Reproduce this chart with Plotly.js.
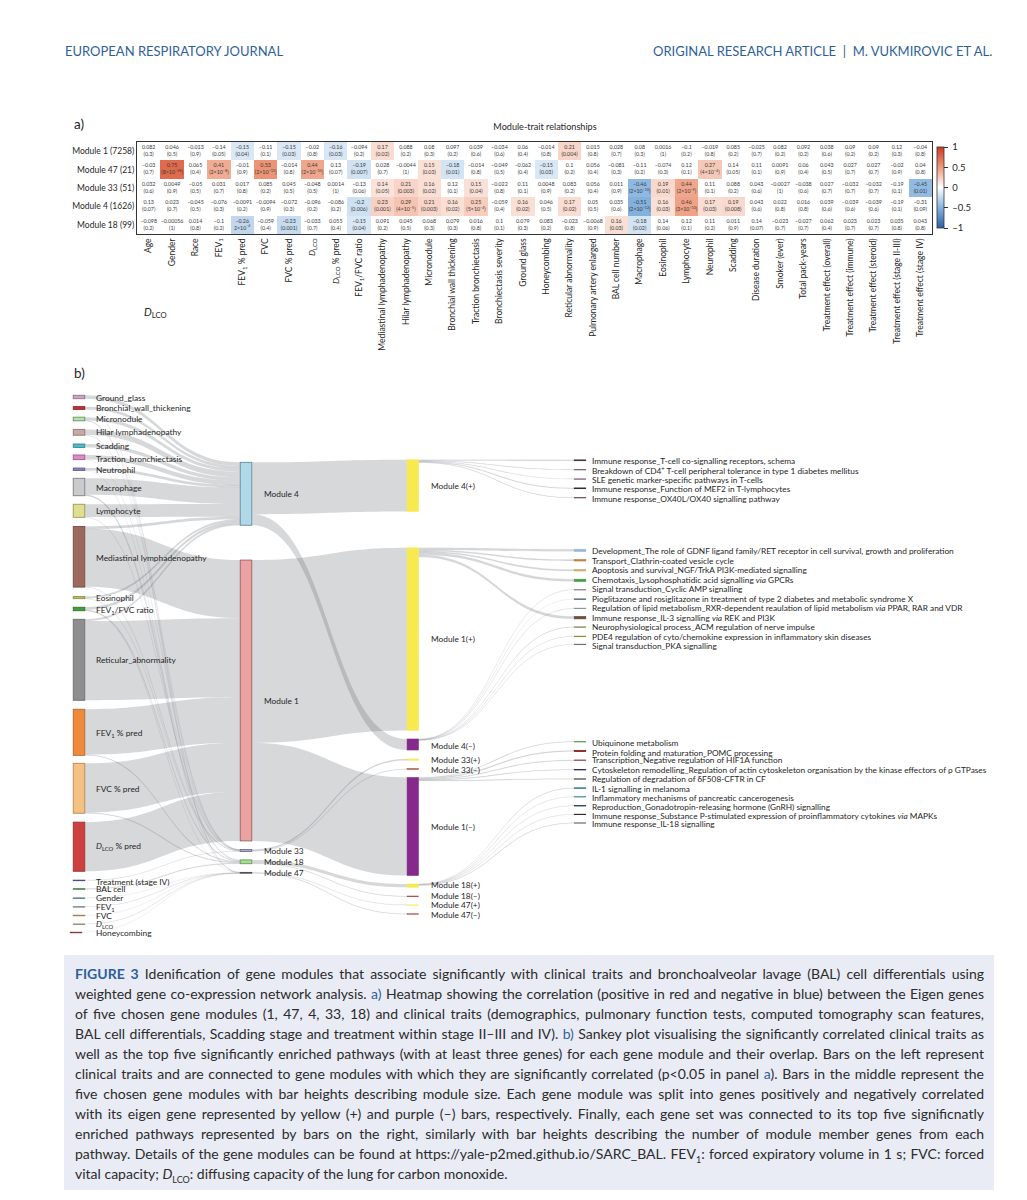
<!DOCTYPE html>
<html><head><meta charset="utf-8">
<script src="https://cdn.plot.ly/plotly-3.0.1.min.js"></script>
<style>
html,body{margin:0;padding:0;background:#fff;overflow:hidden}
#chart{position:absolute;left:0;top:0;width:1027px;height:1200px}
#caption{position:absolute;left:64px;top:955px;width:930px;height:235px;background:#e9ebf5;font-family:Lato,sans-serif;font-size:14px;color:#2b2b2b;box-sizing:border-box;padding:9px 10px 0 11px}
#caption div{height:20px;line-height:20px;text-align:justify;text-align-last:justify}
#caption div.last{text-align-last:left}
#caption b{color:#2f5f9a;font-weight:700}
#caption span{color:#2f5f9a}
#caption sub{font-size:9px;line-height:0}
</style></head><body>
<div id="chart"></div>
<div id="caption">
<div><b>FIGURE 3</b> Idenification of gene modules that associate significantly with clinical traits and bronchoalveolar lavage (BAL) cell differentials using</div>
<div>weighted gene co-expression network analysis. <span>a)</span> Heatmap showing the correlation (positive in red and negative in blue) between the Eigen genes</div>
<div>of five chosen gene modules (1, 47, 4, 33, 18) and clinical traits (demographics, pulmonary function tests, computed tomography scan features,</div>
<div>BAL cell differentials, Scadding stage and treatment within stage II–III and IV). <span>b)</span> Sankey plot visualising the significantly correlated clinical traits as</div>
<div>well as the top five significantly enriched pathways (with at least three genes) for each gene module and their overlap. Bars on the left represent</div>
<div>clinical traits and are connected to gene modules with which they are significantly correlated (p&lt;0.05 in panel <span>a</span>). Bars in the middle represent the</div>
<div>five chosen gene modules with bar heights describing module size. Each gene module was split into genes positively and negatively correlated</div>
<div>with its eigen gene represented by yellow (+) and purple (–) bars, respectively. Finally, each gene set was connected to its top five significnatly</div>
<div>enriched pathways represented by bars on the right, similarly with bar heights describing the number of module member genes from each</div>
<div>pathway. Details of the gene modules can be found at https://yale-p2med.github.io/SARC_BAL. FEV<sub>1</sub>: forced expiratory volume in 1 s; FVC: forced</div>
<div class="last">vital capacity; <i>D</i><sub>LCO</sub>: diffusing capacity of the lung for carbon monoxide.</div>
</div>
<script>
/* ---------- panel a data ---------- */
const traits = ["Age","Gender","Race","FEV<sub>1</sub>","FEV<sub>1</sub> % pred","FVC","FVC % pred","<i>D</i><sub>LCO</sub>","<i>D</i><sub>LCO</sub> % pred","FEV<sub>1</sub>/FVC ratio","Mediastinal lymphadenopathy","Hilar lymphadenopathy","Micronodule","Bronchial wall thickening","Traction bronchiectasis","Bronchiectasis severity","Ground glass","Honeycombing","Reticular abnormality","Pulmonary artery enlarged","BAL cell number","Macrophage","Eosinophil","Lymphocyte","Neurophil","Scadding","Disease duration","Smoker (ever)","Total pack-years","Treatment effect (overall)","Treatment effect (immune)","Treatment effect (steroid)","Treatment effect (stage II-III)","Treatment effect (stage IV)"];
const moduleRows = ["Module 1 (7258)","Module 47 (21)","Module 33 (51)","Module 4 (1626)","Module 18 (99)"];
const rM1 = [0.082,0.046,-0.013,-0.14,-0.15,-0.11,-0.15,-0.02,-0.16,-0.094,0.17,0.088,0.08,0.097,0.039,-0.034,0.06,-0.014,0.21,0.015,0.028,0.08,0.0016,-0.1,-0.019,0.085,-0.025,0.082,0.092,0.038,0.09,0.09,0.12,-0.04];
const rM47 = [-0.03,0.75,0.065,0.41,-0.01,0.53,-0.014,0.44,0.13,-0.19,0.028,-0.0044,0.15,-0.18,-0.014,-0.049,-0.062,-0.15,0.1,0.056,-0.081,-0.11,-0.074,0.12,0.27,0.14,0.11,0.0091,0.06,0.043,0.027,0.027,-0.02,0.04];
const rM33 = [0.032,0.0049,-0.05,0.031,0.017,0.085,0.045,-0.048,0.0014,-0.13,0.14,0.21,0.16,0.12,0.15,-0.022,0.11,0.0048,0.083,0.056,0.011,-0.46,0.19,0.44,0.11,0.088,0.043,-0.0027,-0.038,0.027,-0.032,-0.032,-0.19,-0.45];
const rM4 = [0.13,0.023,-0.045,-0.076,-0.0091,-0.0094,-0.072,-0.096,-0.086,-0.2,0.23,0.29,0.21,0.16,0.25,-0.059,0.16,0.046,0.17,0.05,0.035,-0.51,0.16,0.46,0.17,0.19,0.043,0.022,0.016,0.039,-0.039,-0.039,-0.19,-0.31];
const rM18 = [-0.098,-0.00056,0.014,-0.1,-0.26,-0.059,-0.23,-0.033,0.055,-0.15,0.091,0.045,0.068,0.079,0.016,0.1,0.079,0.083,-0.023,-0.0068,0.16,-0.18,0.14,0.12,0.11,0.011,0.14,-0.023,-0.027,0.062,0.023,0.023,0.035,0.043];
const e = (a,b)=>`${a}×10<sup>–${b}</sup>`;
const pM1 = ["(0.3)","(0.5)","(0.9)","(0.05)","(0.04)","(0.1)","(0.03)","(0.8)","(0.03)","(0.2)","(0.02)","(0.2)","(0.3)","(0.2)","(0.6)","(0.6)","(0.4)","(0.8)","(0.004)","(0.8)","(0.7)","(0.3)","(1)","(0.2)","(0.8)","(0.2)","(0.7)","(0.2)","(0.2)","(0.6)","(0.2)","(0.2)","(0.3)","(0.8)"];
const pM47 = ["(0.7)",`(${e(8,38)})`,"(0.4)",`(${e(2,8)})`,"(0.9)",`(${e(2,13)})`,"(0.8)",`(${e(2,10)})`,"(0.07)","(0.007)","(0.7)","(1)","(0.03)","(0.01)","(0.8)","(0.5)","(0.4)","(0.03)","(0.2)","(0.4)","(0.3)","(0.2)","(0.3)","(0.1)",`(${e(4,4)})`,"(0.05)","(0.1)","(0.9)","(0.4)","(0.5)","(0.7)","(0.7)","(0.9)","(0.8)"];
const pM33 = ["(0.6)","(0.9)","(0.5)","(0.7)","(0.8)","(0.2)","(0.5)","(0.5)","(1)","(0.06)","(0.05)","(0.003)","(0.02)","(0.1)","(0.04)","(0.8)","(0.1)","(0.9)","(0.2)","(0.4)","(0.9)",`(${e(2,10)})`,"(0.01)",`(${e(2,9)})`,"(0.1)","(0.2)","(0.6)","(1)","(0.6)","(0.7)","(0.7)","(0.7)","(0.1)","(0.01)"];
const pM4 = ["(0.07)","(0.7)","(0.5)","(0.3)","(0.2)","(0.9)","(0.3)","(0.2)","(0.2)","(0.006)","(0.001)",`(${e(4,5)})`,"(0.003)","(0.02)",`(${e(5,4)})`,"(0.4)","(0.02)","(0.5)","(0.02)","(0.5)","(0.6)",`(${e(2,12)})`,"(0.03)",`(${e(3,10)})`,"(0.03)","(0.008)","(0.6)","(0.8)","(0.8)","(0.6)","(0.6)","(0.6)","(0.1)","(0.09)"];
const pM18 = ["(0.2)","(1)","(0.8)","(0.2)",e(2,4),"(0.4)","(0.001)","(0.7)","(0.4)","(0.04)","(0.2)","(0.5)","(0.3)","(0.3)","(0.8)","(0.1)","(0.3)","(0.2)","(0.8)","(0.9)","(0.03)","(0.02)","(0.06)","(0.1)","(0.2)","(0.9)","(0.07)","(0.7)","(0.7)","(0.4)","(0.7)","(0.7)","(0.8)","(0.8)"];
/* traits (by column index) shaded as significant in each row */
const sigM1 = [4,6,8,10,18];
const sigM47 = [1,3,5,7,9,12,13,17,24];
const sigM33 = [10,11,12,14,21,22,23,33];
const sigM4 = [9,10,11,12,13,14,16,18,21,22,23,24,25];
const sigM18 = [4,6,9,20,21];

/* ---------- panel b data ---------- */
const leftNames = ["Ground_glass","Bronchial_wall_thickening","Micronodule","Hilar lymphadenopathy","Scadding","Traction_bronchiectasis","Neutrophil","Macrophage","Lymphocyte","Mediastinal lymphadenopathy","Eosinophil","FEV<sub>1</sub>/FVC ratio","Reticular_abnormality","FEV<sub>1</sub> % pred","FVC % pred","<i>D</i><sub>LCO</sub> % pred","Treatment (stage IV)","BAL cell","Gender","FEV<sub>1</sub>","FVC","<i>D</i><sub>LCO</sub>","Honeycombing"];
const midNames = ["Module 4","Module 1","Module 33","Module 18","Module 47"];
const signNames = ["Module 4(+)","Module 1(+)","Module 4(–)","Module 33(+)","Module 33(–)","Module 1(–)","Module 18(+)","Module 18(–)","Module 47(+)","Module 47(–)"];
const pathNames = ["Immune response_T-cell co-signalling receptors, schema","Breakdown of CD4<sup>+</sup> T-cell peripheral tolerance in type 1 diabetes mellitus","SLE genetic marker-specific pathways in T-cells","Immune response_Function of MEF2 in T-lymphocytes","Immune response_OX40L/OX40 signalling pathway","Development_The role of GDNF ligand family/RET receptor in cell survival, growth and proliferation","Transport_Clathrin-coated vesicle cycle","Apoptosis and survival_NGF/TrkA PI3K-mediated signalling","Chemotaxis_Lysophosphatidic acid signalling <i>via</i> GPCRs","Signal transduction_Cyclic AMP signalling","Pioglitazone and rosiglitazone in treatment of type 2 diabetes and metabolic syndrome X","Regulation of lipid metabolism_RXR-dependent reaulation of lipid metabolism <i>via</i> PPAR, RAR and VDR","Immune response_IL-3 signalling <i>via</i> REK and PI3K","Neurophysiological process_ACM regulation of nerve impulse","PDE4 regulation of cyto/chemokine expression in inflammatory skin diseases","Signal transduction_PKA signalling","Ubiquinone metabolism","Protein folding and maturation_POMC processing","Transcription_Negative regulation of HIF1A function","Cytoskeleton remodelling_Regulation of actin cytoskeleton organisation by the kinase effectors of ρ GTPases","Regulation of degradation of δF508-CFTR in CF","IL-1 signalling in melanoma","Inflammatory mechanisms of pancreatic cancerogenesis","Reproduction_Gonadotropin-releasing hormone (GnRH) signalling","Immune response_Substance P-stimulated expression of proinflammatory cytokines <i>via</i> MAPKs","Immune response_IL-18 signalling"];
/* trait -> module flows, in module genes: [trait index, value] per module */
const toM4 = [[0,88],[1,68],[2,86],[3,145],[4,88],[5,114],[6,63],[7,425],[8,331],[9,60],[10,47],[11,66],[12,45]];
const toM1 = [[9,1500],[12,2048],[13,1170],[14,1270],[15,1270]];
const toM33 = [[2,6],[3,6],[5,6],[7,6],[8,7],[9,6],[10,6],[16,6]];
const toM18 = [[7,19],[11,20],[13,20],[14,20],[17,20]];
const toM47 = [[1,2],[2,2],[6,2],[11,3],[18,3],[19,3],[20,2],[21,2],[22,2]];
/* module -> signed gene set */
const moduleSplit = [[0,0,1340],[0,2,286],[1,1,4720],[1,5,2538],[2,3,33],[2,4,18],[3,6,85],[3,7,14],[4,8,8],[4,9,13]];
/* signed gene set -> pathway */
const setPathways = [[0,0,22],[0,1,12],[0,2,10],[0,3,20],[0,4,14],[1,5,55],[1,6,35],[1,7,35],[1,8,55],[1,12,60],[2,9,8],[2,10,6],[2,11,6],[2,13,8],[2,14,7],[2,15,6],[5,16,16],[5,17,26],[5,18,20],[5,19,16],[5,20,16],[6,21,9],[6,22,6],[6,23,8],[6,24,7],[6,25,13]];

/* ---------- styling / placement (pixels on the page) ---------- */
const W=1027,H=1200,PX_PER_GENE=0.0387,SANKEY_TOP=390;
const fx=x=>x/W, fy=y=>1-y/H;
const FONT="Lato, sans-serif";
const INK='#262626';
const leftColors=[["#cba7bd","#8f7388"],["#c4303a","#8f1f26"],["#bcdcae","#5f9a5f"],["#c6aaa4","#94756f"],["#55b6c4","#2f8896"],["#dc8cc4","#a25a90"],["#9080c0","#6a5a96"],["#cbcbcb","#808080"],["#e0de92","#9a9a55"],["#9c675d","#7a4c44"],["#bcc060","#8e9240"],["#459b45","#2c7a2c"],["#8e8e8e","#707070"],["#ee8a3a","#b06a30"],["#f5c083","#b58a55"],["#cc4040","#a03232"],["#4a4a8a","#4a4a8a"],["#4f8f5f","#4f8f5f"],["#5b7a9a","#5b7a9a"],["#7a8aa0","#7a8aa0"],["#a87a50","#a87a50"],["#9a8a7a","#9a8a7a"],["#8a3a3a","#8a3a3a"]];
const midColors=[["#b0d8e6","#5f8f9f"],["#eba2a2","#9a6060"],["#b2a9d2","#707090"],["#b2d892","#60a060"],["#8484a4","#505060"]];
const signColors=["#f7e94f","#f7e94f","#85298a","#f7e94f","#a04030","#85298a","#f7e94f","#8a1f1f","#f7e94f","#a05050"];
const pathColors=["#40303a","#7f6a7a","#8a6a8a","#302530","#705a5a","#9cb8d4","#c07f3f","#d4a878","#4a9a4a","#9a8a9a","#4a5a6a","#8a9aa4","#6a4a3a","#8a8a6a","#9a8040","#7a6a6a","#6aa06a","#7a1010","#a06070","#30306a","#6a6a6a","#1f7070","#6aa0a0","#2a4a6a","#3a2a2a","#808080"];
const leftY=[397,408,419,432.3,445.7,457.3,469.3,487,510.8,556.8,597.6,609,659.8,732.3,788.3,846.7,880.3,889,898,906.7,915.3,924,932.3];
const leftLabelY=[397.7,408.3,419.3,432.3,446,458.7,469.7,488,511,557.7,597.7,610,660.3,733.3,789,846.7,881.7,889,898,907,915.7,924.7,933.3];
const midY=[493.8,700.5,850.5,861.8,872.8];
const midLabelY=[494,701,851,862,873.3];
const signY=[485.6,639.1,744.5,759.6,769,826.5,885.6,896.3,905,914];
const signLabelY=[486,639.3,745.7,760,769.7,827.3,885,896,905.3,915.3];
const pathY=[460.3,469.7,479,488.3,497.7,550.3,560.3,570.3,580.3,589.7,599,608.3,617.7,627,636.3,644.3,741.7,751,760.3,769.7,779,788,796.7,805.7,814.3,823];
const pathLabelY=[460.7,470.3,479.7,489.3,498.7,551,560.7,570.3,579.7,589,598.7,608,617.7,627,636.7,646.3,743.3,752.7,760.3,770,779,789,797.7,806.7,815.7,823.7];

/* ---------- build heatmap ---------- */
const rRows=[rM1,rM47,rM33,rM4,rM18], pRows=[pM1,pM47,pM33,pM4,pM18], sigRows=[sigM1,sigM47,sigM33,sigM4,sigM18];
const zShown=rRows.map((row,i)=>row.map((v,j)=>sigRows[i].includes(j)?v:null));
const fmt=v=>String(v).replace('-','–');
const tx=[],ty=[],tt=[];
rRows.forEach((row,i)=>row.forEach((v,j)=>{tx.push(traits[j]);ty.push(moduleRows[i]);tt.push(fmt(v)+'<br>'+pRows[i][j]);}));
const heat={type:'heatmap',x:traits,y:moduleRows,z:zShown,zmin:-1,zmax:1,hoverongaps:false,
 colorscale:[[0,'#2a5fa5'],[0.25,'#85b3df'],[0.5,'#ffffff'],[0.75,'#ee9a7c'],[1,'#d03a20']],
 colorbar:{x:fx(937),xanchor:'left',y:fy(187.5),yanchor:'middle',len:81,lenmode:'pixels',thickness:7,thicknessmode:'pixels',xpad:0,ypad:0,outlinewidth:0.8,outlinecolor:'#333',
  tickmode:'array',tickvals:[-1,-0.5,0,0.5,1],ticktext:['\u00a0–1','\u00a0–0.5','\u00a00','\u00a00.5','\u00a01'],ticks:'outside',ticklen:4,tickcolor:'#333',tickfont:{family:FONT,size:9.5,color:INK}}};
const cellText={type:'scatter',mode:'text',x:tx,y:ty,text:tt,textposition:'middle center',textfont:{family:FONT,size:5.3,color:'#3a3a3a'},hoverinfo:'skip',showlegend:false};

/* ---------- build sankey ---------- */
const nL=leftNames.length,nM=midNames.length,nS=signNames.length;
const src=[],tgt=[],val=[];
[toM4,toM1,toM33,toM18,toM47].forEach((list,m)=>{list.forEach(([a,v])=>{src.push(a);tgt.push(nL+m);val.push(v);});});
moduleSplit.forEach(([a,b,v])=>{src.push(nL+a);tgt.push(nL+nM+b);val.push(v);});
setPathways.forEach(([a,b,v])=>{src.push(nL+nM+a);tgt.push(nL+nM+nS+b);val.push(v);});
const leftTotal=leftNames.map((_,i)=>src.reduce((s,v,k)=>s+(v===i?val[k]:0),0)).reduce((a,b)=>a+b,0);
const SANKEY_H=leftTotal*PX_PER_GENE;
const nodeFill=[...leftColors.map(c=>c[0]),...midColors.map(c=>c[0]),...signColors,...pathColors];
const nodeLine=[...leftColors.map(c=>c[1]),...midColors.map(c=>c[1]),...signColors,...pathColors];
const nodeLW=[...leftColors.map(()=>0.9),...midColors.map(()=>0.9),...signColors.map(()=>0.5),...pathColors.map(()=>0.7)];
const nodeXpx=[...leftNames.map((_,i)=>i===nL-1?76:79),...midNames.map(()=>246),...signNames.map(()=>412.8),...pathNames.map(()=>580)];
const nodeYpx=[...leftY,...midY,...signY,...pathY];
const sankey={type:'sankey',arrangement:'fixed',domain:{x:[0,1],y:[fy(SANKEY_TOP+SANKEY_H),fy(SANKEY_TOP)]},hoverinfo:'skip',orientation:'h',
 node:{x:nodeXpx.map(v=>v/W),y:nodeYpx.map(v=>(v-SANKEY_TOP)/SANKEY_H),thickness:11.5,pad:0,color:nodeFill,line:{color:'#888',width:0},hoverinfo:'skip'},
 link:{source:src,target:tgt,value:val,color:'rgba(90,98,105,0.25)',line:{color:'rgba(90,98,105,0.25)',width:0},hoverinfo:'skip'}};

/* ---------- labels ---------- */
const ann=[];
const lab=(t,x,y,size,color,anchor)=>ann.push({text:t,x:fx(x),y:fy(y),xref:'paper',yref:'paper',xanchor:anchor||'left',yanchor:'middle',showarrow:false,align:'left',borderpad:0,font:{family:FONT,size:size,color:color||INK}});
leftNames.forEach((t,i)=>lab(t,95,leftLabelY[i],8.4));
midNames.forEach((t,i)=>lab(t,262.7,midLabelY[i],8.3));
signNames.forEach((t,i)=>lab(t,429.6,signLabelY[i],8.3));
pathNames.forEach((t,i)=>lab(t,591,pathLabelY[i],8.3));
lab('EUROPEAN RESPIRATORY JOURNAL',64,51,13,'#2f5f9a');
lab('ORIGINAL RESEARCH ARTICLE  |  M. VUKMIROVIC ET AL.',993,51,13,'#2f5f9a','right');
lab('a)',73,124,13.5);
lab('b)',73,373,13.5);
lab('<i>D</i><sub>LCO</sub>',143,312,11);

const layout={width:W,height:H,margin:{l:0,r:0,t:0,b:0},paper_bgcolor:'#fff',plot_bgcolor:'#fff',showlegend:false,font:{family:FONT,color:INK},
 title:{text:'Module-trait relationships',x:fx(545),xref:'paper',xanchor:'center',y:fy(127),yref:'paper',yanchor:'middle',font:{family:FONT,size:9.1,color:INK},automargin:false},
 xaxis:{domain:[fx(137),fx(932)],type:'category',categoryorder:'array',categoryarray:traits,range:[-0.5,33.5],tickangle:-90,ticks:'',tickfont:{family:FONT,size:8.5,color:INK},showline:true,mirror:true,linecolor:'#333',linewidth:1,showgrid:false,zeroline:false,automargin:false},
 yaxis:{domain:[fy(234),fy(142)],type:'category',categoryorder:'array',categoryarray:moduleRows,range:[4.5,-0.5],ticks:'',tickfont:{family:FONT,size:8.5,color:INK},showline:true,mirror:true,linecolor:'#333',linewidth:1,showgrid:false,zeroline:false,automargin:false},
 annotations:ann};
Plotly.newPlot('chart',[sankey,heat,cellText],layout,{displayModeBar:false,staticPlot:true}).then(gd=>{
  /* per-node outlines and a minimum visible width for hairline links */
  gd.querySelectorAll('.sankey .node-rect').forEach(r=>{const i=r.__data__.node.pointNumber;r.style.stroke=nodeLine[i];r.style.strokeWidth=nodeLW[i];r.style.strokeOpacity=1;});
  gd.querySelectorAll('.sankey .sankey-link').forEach(l=>{const k=l.__data__.link.pointNumber;if(val[k]<70){l.style.stroke='rgba(90,98,105,0.25)';l.style.strokeWidth=0.7;}});
  gd.querySelectorAll('.sankey .node-label').forEach(t=>t.remove());
});
</script>
</body></html>
